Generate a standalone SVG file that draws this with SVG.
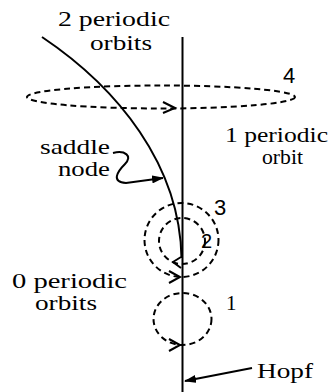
<svg xmlns="http://www.w3.org/2000/svg" width="334" height="392" viewBox="0 0 334 392">
<style>
.t{font-family:"Liberation Serif","Times New Roman",serif;font-size:21px;fill:#000}
.n{font-family:"Liberation Sans",Arial,sans-serif;fill:#000}
.d{fill:none;stroke:#000;stroke-width:2;stroke-dasharray:6 4}
.s{fill:none;stroke:#000;stroke-width:2}
.a{fill:none;stroke:#000;stroke-width:2}
</style>
<defs>
<marker id="ah" markerWidth="12" markerHeight="8" refX="11" refY="4" orient="auto" markerUnits="userSpaceOnUse">
<path d="M0,0 L12,4 L0,8 Z" fill="#000"/>
</marker>
</defs>
<rect width="334" height="392" fill="#fff"/>
<g id="connectors">
<path id="hopf-line" class="s" d="M182.5,37 L182.5,392"/>
<path id="saddle-curve" class="s" d="M42,37 C118,88 180,165 181.5,258"/>
<path id="saddle-pointer" class="s" d="M113,153 C125,150 133,156 125,164 C117,172 111,182 126,183 L163,178" marker-end="url(#ah)"/>
<path id="hopf-pointer" class="s" d="M252,368 L185,381" marker-end="url(#ah)"/>
</g>
<g id="orbit4">
<ellipse class="d" cx="161" cy="97" rx="134" ry="11.5"/>
<path class="a" d="M163,102 L175,108 L163,113"/>
<text class="n" x="283" y="83" font-size="22">4</text>
</g>
<g id="orbit3">
<circle class="d" cx="181.5" cy="240" r="37"/>
<path class="a" d="M169,271 L180,277 L169,283"/>
<text class="n" x="214" y="215" font-size="22">3</text>
</g>
<g id="orbit2">
<circle class="d" cx="182" cy="241" r="23"/>
<path class="a" d="M181,257 L173,262 L181,268"/>
<text class="n" x="201" y="248" font-size="20">2</text>
</g>
<g id="orbit1">
<ellipse class="d" cx="182.5" cy="319" rx="29" ry="26"/>
<path class="a" d="M169,339 L180,345 L169,351"/>
<text class="t" x="226" y="310" font-size="26">1</text>
</g>
<g id="label-2periodic">
<text class="t" x="58" y="26" textLength="112" lengthAdjust="spacingAndGlyphs">2 periodic</text>
<text class="t" x="90" y="50" textLength="62" lengthAdjust="spacingAndGlyphs">orbits</text>
</g>
<g id="label-1periodic">
<text class="t" x="225" y="142" textLength="103" lengthAdjust="spacingAndGlyphs">1 periodic</text>
<text class="t" x="262" y="164" textLength="41" lengthAdjust="spacingAndGlyphs">orbit</text>
</g>
<g id="label-0periodic">
<text class="t" x="12" y="288" textLength="115" lengthAdjust="spacingAndGlyphs">0 periodic</text>
<text class="t" x="35" y="310" textLength="62" lengthAdjust="spacingAndGlyphs">orbits</text>
</g>
<g id="label-saddle">
<text class="t" x="40" y="154" textLength="70" lengthAdjust="spacingAndGlyphs">saddle</text>
<text class="t" x="58" y="176" textLength="52" lengthAdjust="spacingAndGlyphs">node</text>
</g>
<g id="label-hopf">
<text class="t" x="257" y="378" font-size="26" textLength="56" lengthAdjust="spacingAndGlyphs">Hopf</text>
</g>
</svg>
